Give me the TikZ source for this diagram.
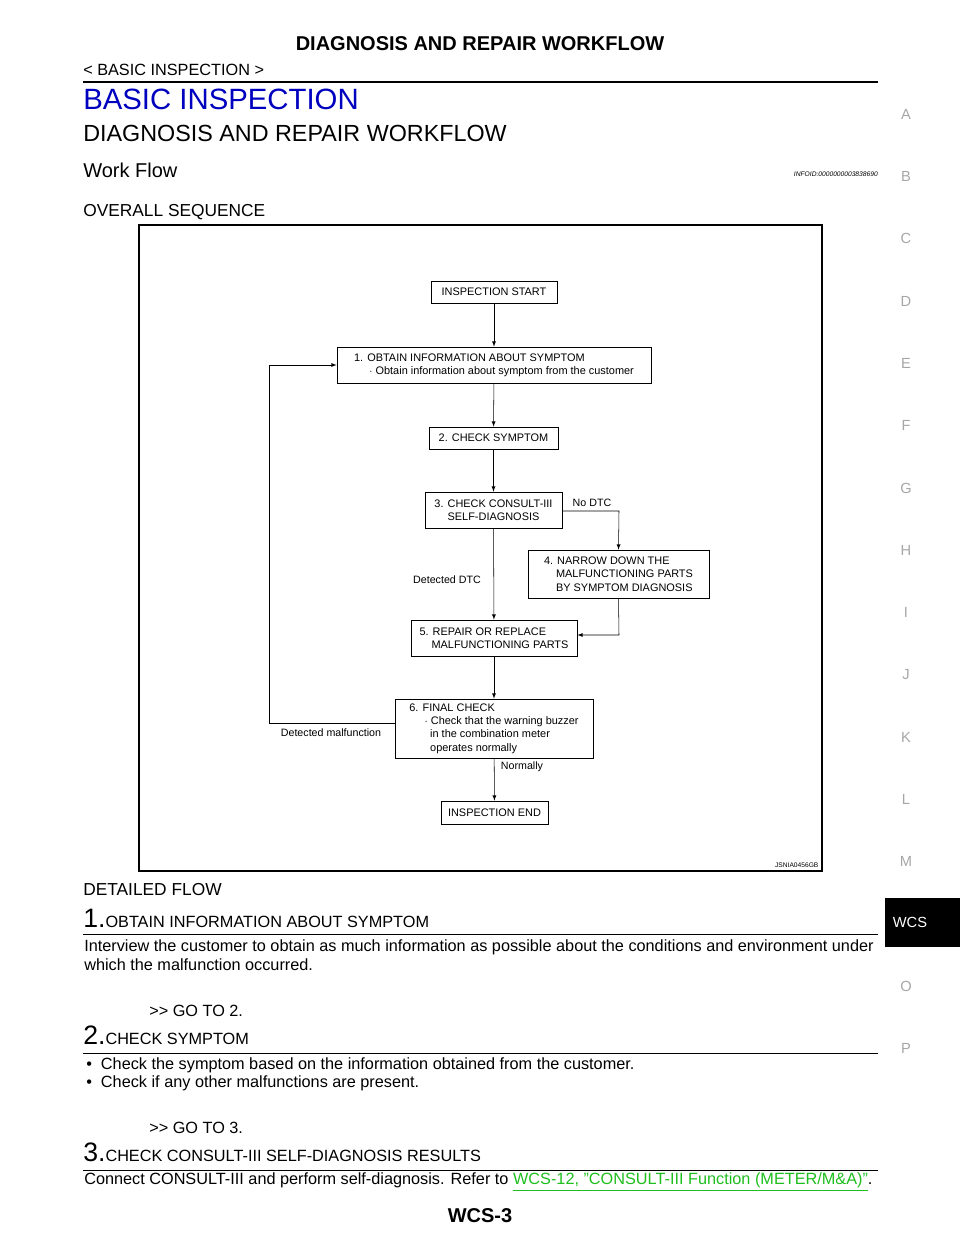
\documentclass[tikz,border=0pt]{standalone}
\usepackage{fontspec}
\setmainfont{Liberation Sans}
\usetikzlibrary{positioning}
\definecolor{linkgreen}{RGB}{30,190,30}
\begin{document}
\begin{tikzpicture}[x=0.75pt,y=-0.75pt,
    stepbox/.style={draw, line width=0.5pt, align=left, font=\fontsize{8.2}{10}\selectfont, inner sep=0pt},
    flowlbl/.style={font=\fontsize{8}{9}\selectfont, inner sep=1pt},
    tab/.style={text=black!35, font=\fontsize{11}{12}\selectfont},
    body/.style={anchor=west, inner sep=0pt, font=\fontsize{12.2}{14}\selectfont}]
\useasboundingbox (0,0) rectangle (960,1242);
% page header
\node[font=\bfseries\fontsize{15}{17}\selectfont] (title) at (480,44) {DIAGNOSIS AND REPAIR WORKFLOW};
\node[body] (crumb) at (83,70) {< BASIC INSPECTION >};
\draw[line width=1.5pt] (83,82) -- (878,82);
\node[body, text=blue!75!black, font=\fontsize{22}{24}\selectfont] (sect) at (83,99) {BASIC INSPECTION};
\node[body, font=\fontsize{17.5}{19}\selectfont] (sub) at (83,133) {DIAGNOSIS AND REPAIR WORKFLOW};
\node[body, font=\fontsize{15}{17}\selectfont] (wf) at (83,170) {Work Flow};
\node[anchor=east, inner sep=0pt, font=\itshape\fontsize{5}{6}\selectfont] (info) at (878,174) {INFOID:0000000003838690};
\node[body, font=\fontsize{13}{15}\selectfont] (ovr) at (83,212) {OVERALL SEQUENCE};
% right tabs
\foreach \l [count=\i] in {A,B,C,D,E,F,G,H,I,J,K,L,M}
  \node[tab] at (906,52+62.3*\i) {\l};
\fill[black] (885,898) rectangle (960,947);
\node[text=white, font=\fontsize{11}{12}\selectfont] (wcs) at (910,922) {WCS};
\node[tab] (tabo) at (906,986) {O};
\node[tab] (tabp) at (906,1048) {P};
% flow chart frame
\draw[line width=1pt] (139,225) rectangle (822,871);
\node[anchor=south east, inner sep=1pt, font=\fontsize{5}{6}\selectfont] (fig) at (820,869) {JSNIA0456GB};
% boxes
\node[stepbox, minimum width=0.75*126pt, minimum height=0.75*22pt] (start) at (494,292) {INSPECTION START};
\node[stepbox, minimum width=0.75*314pt, minimum height=0.75*36pt] (obtain) at (494,365) {1. OBTAIN INFORMATION ABOUT SYMPTOM\\\hspace{1.4em}$\cdot$ Obtain information about symptom from the customer};
\node[stepbox, minimum width=0.75*129pt, minimum height=0.75*22pt] (symptom) at (493.5,438) {2. CHECK SYMPTOM};
\node[stepbox, minimum width=0.75*137pt, minimum height=0.75*36pt, align=center] (consult) at (493.5,510) {3. CHECK CONSULT-III\\SELF-DIAGNOSIS};
\node[stepbox, minimum width=0.75*181pt, minimum height=0.75*48pt] (narrow) at (618.5,574) {4. NARROW DOWN THE\\\hspace{1.1em}MALFUNCTIONING PARTS\\\hspace{1.1em}BY SYMPTOM DIAGNOSIS};
\node[stepbox, minimum width=0.75*166pt, minimum height=0.75*36pt] (repair) at (494,638) {5. REPAIR OR REPLACE\\\hspace{1.1em}MALFUNCTIONING PARTS};
\node[stepbox, minimum width=0.75*198pt, minimum height=0.75*59pt] (final) at (494,728.5) {6. FINAL CHECK\\\hspace{1.4em}$\cdot$ Check that the warning buzzer\\\hspace{1.9em}in the combination meter\\\hspace{1.9em}operates normally};
\node[stepbox, minimum width=0.75*107pt, minimum height=0.75*23pt] (finish) at (494.5,812.5) {INSPECTION END};
% connectors
\coordinate (loopbot) at (269,723);
\coordinate (looptop) at (269,365);
\coordinate (nodtc) at (619,511);
\coordinate (back) at (619,635);
\draw[-latex] (start) -- (obtain);
\draw[-latex] (obtain) -- (symptom);
\draw[-latex] (symptom) -- (consult);
\draw[-latex] (consult) -- (repair);
\draw[-latex] (consult.east |- nodtc) -- (nodtc) -- (narrow.north);
\draw[-latex] (narrow.south) -- (back) -- (repair.east |- back);
\draw[-latex] (repair) -- (final);
\draw[-latex] (final) -- (finish);
\draw[-latex] (final.west |- loopbot) -- (loopbot) -- (looptop) -- (obtain.west);
% labels
\node[flowlbl] (lnodtc) at (592,503) {No DTC};
\node[flowlbl] (ldtc) at (447,580) {Detected DTC};
\node[flowlbl] (lmal) at (331,733) {Detected malfunction};
\node[flowlbl] (lnorm) at (522,767) {Normally};
% detailed flow
\node[body, font=\fontsize{13}{15}\selectfont] (det) at (83,890) {DETAILED FLOW};
\node[body] (s1) at (83,918) {{\fontsize{20}{20}\selectfont 1.}OBTAIN INFORMATION ABOUT SYMPTOM};
\draw (83,934) -- (878,934);
\node[body] (s1a) at (84,947) {Interview the customer to obtain as much information as possible about the conditions and environment under};
\node[body] (s1b) at (84,965) {which the malfunction occurred.};
\node[body] (s1c) at (149,1011) {>{}> GO TO 2.};
\node[body] (s2) at (83,1035) {{\fontsize{20}{20}\selectfont 2.}CHECK SYMPTOM};
\draw (83,1053) -- (878,1053);
\node[body] (s2a) at (86,1065) {\textbullet\ \ Check the symptom based on the information obtained from the customer.};
\node[body] (s2b) at (86,1083) {\textbullet\ \ Check if any other malfunctions are present.};
\node[body] (s2c) at (149,1128) {>{}> GO TO 3.};
\node[body] (s3) at (83,1152) {{\fontsize{20}{20}\selectfont 3.}CHECK CONSULT-III SELF-DIAGNOSIS RESULTS};
\draw (83,1170) -- (878,1170);
\node[body] (s3a) at (84,1182) {Connect CONSULT-III and perform self-diagnosis. Refer to \textcolor{linkgreen}{\underline{WCS-12, "CONSULT-III Function (METER/M\&A)"}}.};
\node[font=\bfseries\fontsize{15}{17}\selectfont] (pg) at (480,1216) {WCS-3};
\end{tikzpicture}
\end{document}
